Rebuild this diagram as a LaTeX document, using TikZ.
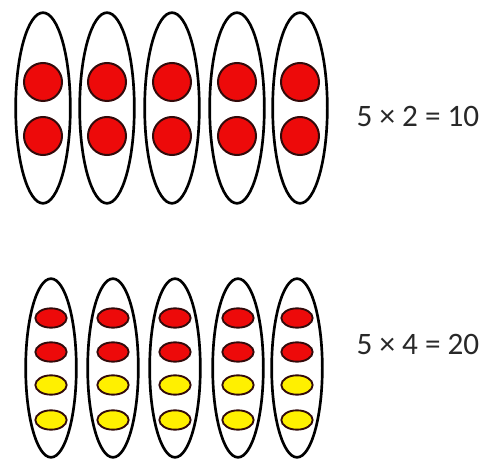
\documentclass[tikz,border=0pt]{standalone}
\usepackage{fontspec}
\setmainfont{Carlito}
\usepackage{tikz}
\usetikzlibrary{shapes.geometric}
\definecolor{dotred}{RGB}{237, 10, 10}
\definecolor{dotyellow}{RGB}{255, 240, 0}
\definecolor{rimdark}{RGB}{50, 10, 10}
\definecolor{inkgray}{RGB}{40, 40, 40}

\begin{document}
\begin{tikzpicture}[x=0.75pt, y=-0.75pt,
    group/.style={draw=black, ellipse, line width=2pt, inner sep=0pt},
    counter/.style={draw=rimdark, circle, fill=dotred, line width=1.5pt,
                minimum size=28.5pt, inner sep=0pt},
    bead/.style={draw=rimdark, ellipse, line width=1.4pt, inner sep=0pt,
                minimum width=23.5pt, minimum height=14.5pt},
    sum/.style={font=\fontsize{23.4}{28}\selectfont, text=inkgray, inner sep=0pt}
]
    \useasboundingbox (0,0) rectangle (486,463);
    % top row: five groups of two
    \foreach \x [count=\i] in {43,107,172,237,300} {
        \node[group, minimum width=41pt, minimum height=143pt]
            (topgrp\i) at (\x,108) {};
        \node[counter] (topdot\i a) at (\x,82) {};
        \node[counter] (topdot\i b) at (\x,136) {};
    }
    \node[sum] (topsum) at (418,116) {5 × 2 = 10};
    % bottom row: five groups of four
    \foreach \x [count=\i] in {51,113,175,238,297} {
        \node[group, minimum width=38pt, minimum height=134pt]
            (lowgrp\i) at (\x,368) {};
        \node[bead, fill=dotred] (lowdot\i a) at (\x,318) {};
        \node[bead, fill=dotred] (lowdot\i b) at (\x,352) {};
        \node[bead, fill=dotyellow] (lowdot\i c) at (\x,385) {};
        \node[bead, fill=dotyellow] (lowdot\i d) at (\x,420) {};
    }
    \node[sum] (lowsum) at (418,344) {5 × 4 = 20};
\end{tikzpicture}
\end{document}
